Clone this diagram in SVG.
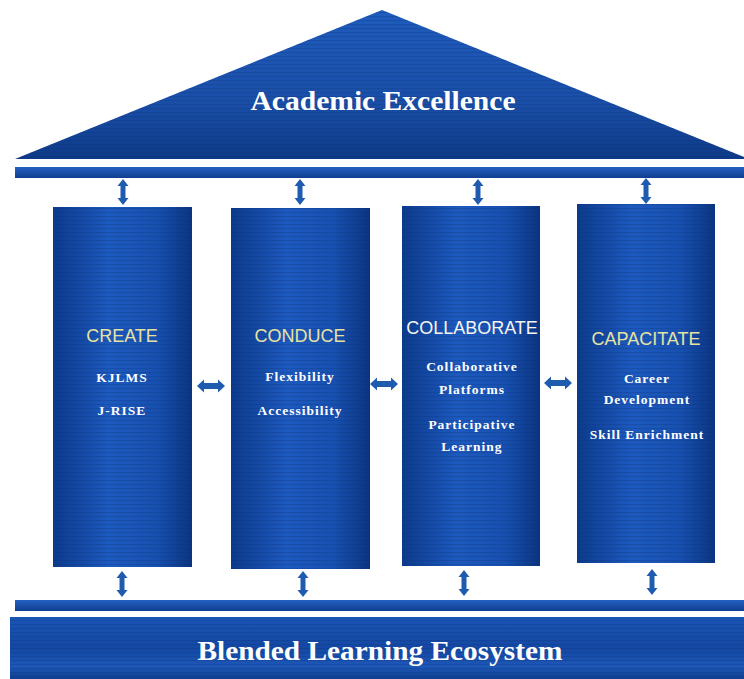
<svg xmlns="http://www.w3.org/2000/svg" xmlns:xlink="http://www.w3.org/1999/xlink" width="744" height="679" viewBox="0 0 744 679">
  <defs>
    <linearGradient id="colGrad" x1="0" y1="0" x2="1" y2="0">
      <stop offset="0" stop-color="#0c3a8c"/>
      <stop offset="0.4" stop-color="#1d5abf"/>
      <stop offset="0.75" stop-color="#1750b0"/>
      <stop offset="1" stop-color="#0b3480"/>
    </linearGradient>
    <linearGradient id="roofGrad" x1="0" y1="0" x2="0" y2="1">
      <stop offset="0" stop-color="#1f5cbd"/>
      <stop offset="0.6" stop-color="#1a4fa8"/>
      <stop offset="1" stop-color="#0e3a88"/>
    </linearGradient>
    <linearGradient id="baseGrad" x1="0" y1="0" x2="0" y2="1">
      <stop offset="0" stop-color="#1a55b5"/>
      <stop offset="0.5" stop-color="#1448a3"/>
      <stop offset="0.8" stop-color="#1d58b8"/>
      <stop offset="1" stop-color="#0f3e90"/>
    </linearGradient>
    <linearGradient id="barGrad" x1="0" y1="0" x2="0" y2="1">
      <stop offset="0" stop-color="#2461c0"/>
      <stop offset="1" stop-color="#0f3e90"/>
    </linearGradient>
    <pattern id="streaks" width="10" height="4" patternUnits="userSpaceOnUse">
      <rect x="0" y="0" width="10" height="1.2" fill="#0a2f72" opacity="0.25"/>
    </pattern>
    <path id="varrow" d="M0,-13 L5.5,-6 L2.5,-6 L2.5,6 L5.5,6 L0,13 L-5.5,6 L-2.5,6 L-2.5,-6 L-5.5,-6 Z"/>
    <path id="harrow" d="M-14,0 L-7,-6.5 L-7,-3 L7,-3 L7,-6.5 L14,0 L7,6.5 L7,3 L-7,3 L-7,6.5 Z"/>
  </defs>
  <style>
    .col { fill: url(#colGrad); }
    .tex { fill: url(#streaks); }
    .head { font-family: "Liberation Sans", Arial, sans-serif; font-size: 18px; text-anchor: middle; }
    .gold { fill: #e6e3a2; }
    .wh { fill: #f4f4f0; }
    .sub { font-family: "Liberation Serif", "Times New Roman", serif; font-weight: bold; font-size: 13.5px; fill: #ffffff; text-anchor: middle; letter-spacing: 1px; }
    .big { font-family: "Liberation Serif", "Times New Roman", serif; font-weight: bold; fill: #ffffff; text-anchor: middle; }
    .arr { fill: #1f5cb0; }
  </style>
  <rect width="744" height="679" fill="#ffffff"/>

  <g id="roof">
    <polygon points="382,10 15,159 744,159 744,157" fill="url(#roofGrad)"/>
    <polygon points="382,10 15,159 744,159 744,157" class="tex"/>
    <rect x="15" y="167" width="729" height="11" fill="url(#barGrad)"/>
    <text class="big" x="383" y="110" font-size="27" textLength="265" lengthAdjust="spacingAndGlyphs">Academic Excellence</text>
  </g>

  <g id="create">
    <rect class="col" x="53" y="207" width="139" height="360"/>
    <rect class="tex" x="53" y="207" width="139" height="360"/>
    <text class="head gold" x="122" y="342">CREATE</text>
    <text class="sub" x="122" y="382">KJLMS</text>
    <text class="sub" x="122" y="415">J-RISE</text>
  </g>

  <g id="conduce">
    <rect class="col" x="231" y="208" width="139" height="361"/>
    <rect class="tex" x="231" y="208" width="139" height="361"/>
    <text class="head gold" x="300" y="342">CONDUCE</text>
    <text class="sub" x="300" y="381">Flexibility</text>
    <text class="sub" x="300" y="415">Accessibility</text>
  </g>

  <g id="collaborate">
    <rect class="col" x="402" y="206" width="138" height="360"/>
    <rect class="tex" x="402" y="206" width="138" height="360"/>
    <text class="head wh" x="472" y="334">COLLABORATE</text>
    <text class="sub" x="472" y="371">Collaborative</text>
    <text class="sub" x="472" y="394">Platforms</text>
    <text class="sub" x="472" y="429">Participative</text>
    <text class="sub" x="472" y="451">Learning</text>
  </g>

  <g id="capacitate">
    <rect class="col" x="577" y="204" width="138" height="359"/>
    <rect class="tex" x="577" y="204" width="138" height="359"/>
    <text class="head gold" x="646" y="345">CAPACITATE</text>
    <text class="sub" x="647" y="383">Career</text>
    <text class="sub" x="647" y="404">Development</text>
    <text class="sub" x="647" y="439">Skill Enrichment</text>
  </g>

  <g id="base">
    <rect x="15" y="600" width="729" height="11" fill="url(#barGrad)"/>
    <rect x="10" y="617" width="734" height="62" fill="url(#baseGrad)"/>
    <rect x="10" y="617" width="734" height="62" class="tex"/>
    <text class="big" x="380" y="660" font-size="27" textLength="365" lengthAdjust="spacingAndGlyphs">Blended Learning Ecosystem</text>
  </g>

  <g id="connectors" class="arr">
    <use xlink:href="#varrow" x="123" y="192"/>
    <use xlink:href="#varrow" x="300" y="192"/>
    <use xlink:href="#varrow" x="478" y="192"/>
    <use xlink:href="#varrow" x="646" y="191"/>
    <use xlink:href="#varrow" x="122" y="584"/>
    <use xlink:href="#varrow" x="303" y="584"/>
    <use xlink:href="#varrow" x="464" y="583"/>
    <use xlink:href="#varrow" x="652" y="582"/>
    <use xlink:href="#harrow" x="211" y="386"/>
    <use xlink:href="#harrow" x="384" y="384"/>
    <use xlink:href="#harrow" x="558" y="383"/>
  </g>
</svg>
